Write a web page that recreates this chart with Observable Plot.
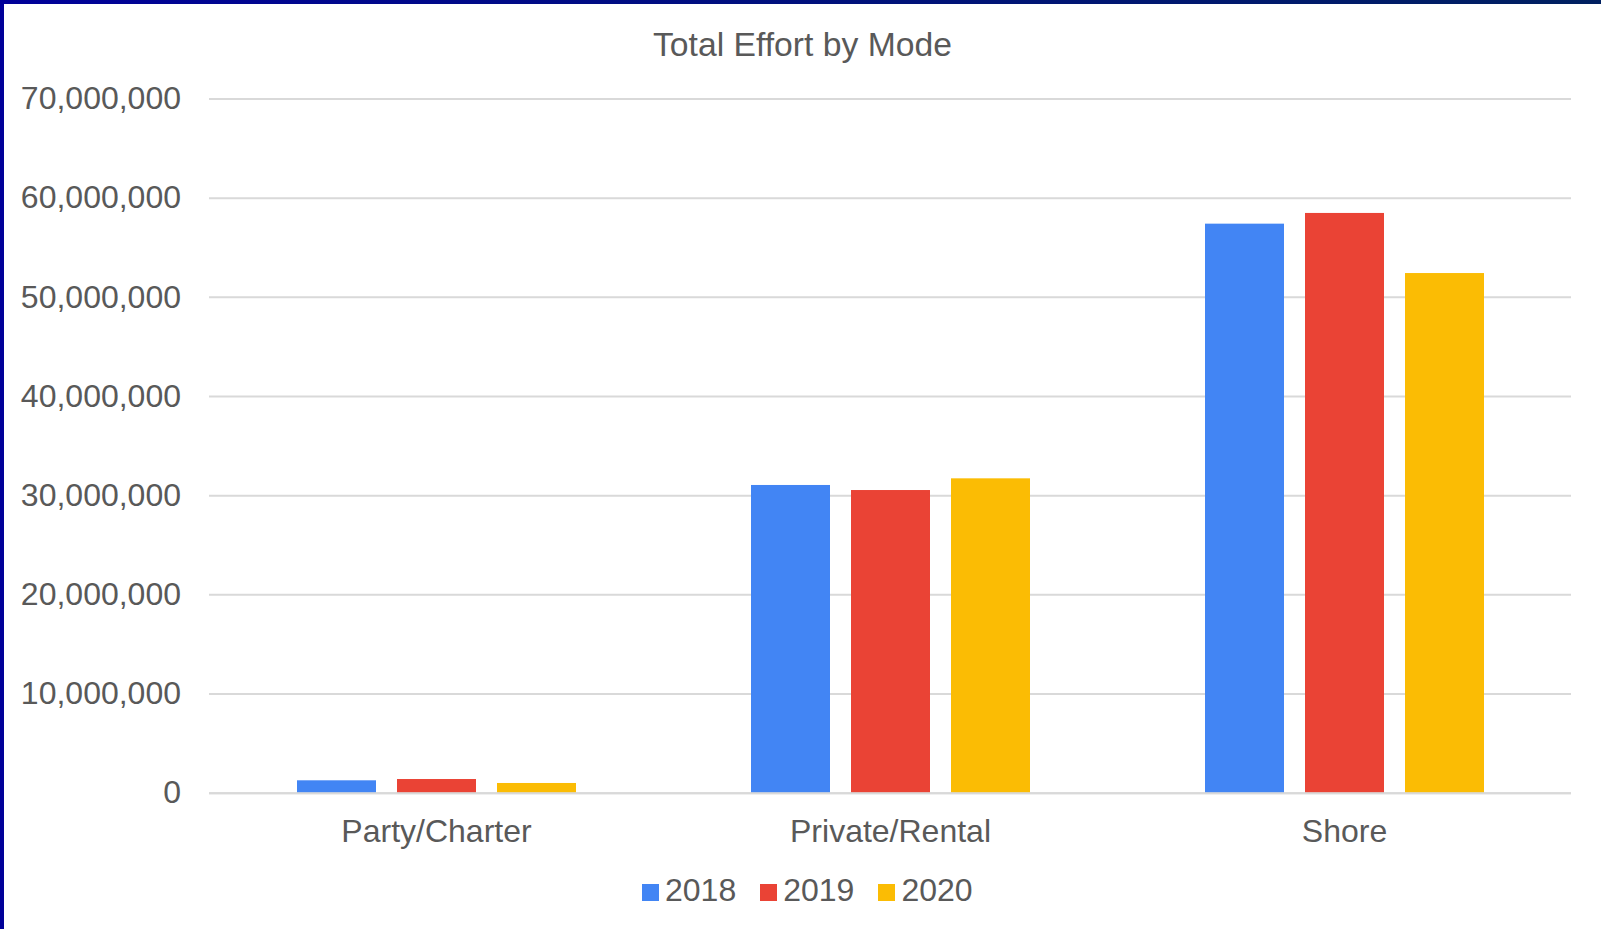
<!DOCTYPE html>
<html>
<head>
<meta charset="utf-8">
<script src="https://cdn.jsdelivr.net/npm/d3@7"></script>
<script src="https://cdn.jsdelivr.net/npm/@observablehq/plot@0.6"></script>
<style>
  html, body { margin: 0; padding: 0; background: #fff; }
  body { width: 1601px; height: 929px; position: relative; overflow: hidden; font-family: "Liberation Sans", Arial, sans-serif; color: #595959; }
  #topborder { position: absolute; left: 0; top: 0; width: 1601px; height: 4px; background: linear-gradient(to right, #000099, #002060); z-index: 5; }
  #leftborder { position: absolute; left: 0; top: 0; width: 4px; height: 929px; background: #000099; z-index: 5; }
  #title { position: absolute; left: 2px; top: 28px; width: 1601px; text-align: center; font-size: 33.7px; line-height: 33px; color: #595959; }
  #chart { position: absolute; left: 0; top: 75px; }
  #legend { position: absolute; left: 642px; top: 874px; font-size: 32px; line-height: 32px; white-space: nowrap; color: #595959; }
  #legend .item { display: inline-block; margin-right: 24px; }
  #legend .sw { display: inline-block; width: 17px; height: 17px; margin-right: 6px; vertical-align: baseline; }
</style>
</head>
<body>
<div id="topborder"></div>
<div id="leftborder"></div>
<div id="title">Total Effort by Mode</div>
<div id="chart"></div>
<div id="legend"></div>
<script>
const modes = ["Party/Charter", "Private/Rental", "Shore"];
const years = ["2018", "2019", "2020"];
const values2018 = [1250000, 31030000, 57380000];
const values2019 = [1380000, 30520000, 58460000];
const values2020 = [980000, 31700000, 52400000];
const yearColors = ["#4285F4", "#EA4335", "#FBBC04"];
const yTicks = [0, 10000000, 20000000, 30000000, 40000000, 50000000, 60000000, 70000000];

const series = [values2018, values2019, values2020];
const data = [];
modes.forEach((m, i) => {
  years.forEach((yr, j) => {
    data.push({mode: m, year: yr, value: series[j][i]});
  });
});

const chart = Plot.plot({
  width: 1601,
  height: 780,
  marginLeft: 208,
  marginRight: 28.5,
  marginTop: 23.5,
  marginBottom: 62.3,
  style: {fontFamily: "'Liberation Sans', Arial, sans-serif", fontSize: "32px", color: "#595959", background: "transparent"},
  fx: {domain: modes, padding: 0, label: null, axis: null},
  x: {domain: years, paddingInner: 0.213, paddingOuter: 0.855, axis: null},
  y: {domain: [0, 70000000], label: null, axis: null},
  color: {domain: years, range: yearColors},
  marks: [
    Plot.gridY(yTicks, {stroke: "#d9d9d9", strokeOpacity: 1, strokeWidth: 2}),
    Plot.axisY(yTicks, {anchor: "left", tickSize: 0, tickPadding: 28.5, tickFormat: d3.format(","), label: null, fontSize: 32}),
    Plot.axisFx({anchor: "bottom", tickSize: 0, tickPadding: 26, label: null, fontSize: 32}),
    Plot.barY(data, {fx: "mode", x: "year", y: "value", fill: "year"}),
    Plot.ruleY([0], {stroke: "#d9d9d9", strokeWidth: 2})
  ]
});
document.getElementById("chart").appendChild(chart);

const legend = document.getElementById("legend");
years.forEach((yr, i) => {
  const item = document.createElement("span");
  item.className = "item";
  const sw = document.createElement("span");
  sw.className = "sw";
  sw.style.background = yearColors[i];
  item.appendChild(sw);
  item.appendChild(document.createTextNode(yr));
  legend.appendChild(item);
});
</script>
</body>
</html>
